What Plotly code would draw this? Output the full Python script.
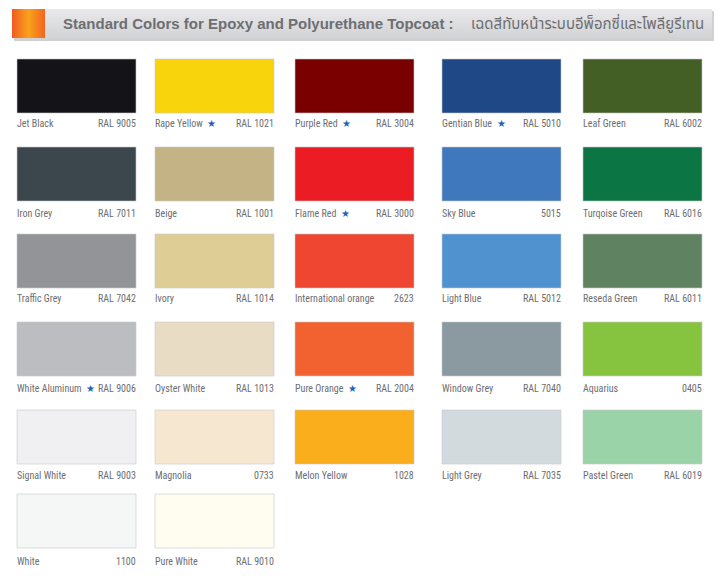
import plotly.graph_objects as go

# ---------------- data ----------------
names = [
    "Jet Black", "Rape Yellow", "Purple Red", "Gentian Blue", "Leaf Green",
    "Iron Grey", "Beige", "Flame Red", "Sky Blue", "Turqoise Green",
    "Traffic Grey", "Ivory", "International orange", "Light Blue", "Reseda Green",
    "White Aluminum", "Oyster White", "Pure Orange", "Window Grey", "Aquarius",
    "Signal White", "Magnolia", "Melon Yellow", "Light Grey", "Pastel Green",
    "White", "Pure White",
]
codes = [
    "RAL 9005", "RAL 1021", "RAL 3004", "RAL 5010", "RAL 6002",
    "RAL 7011", "RAL 1001", "RAL 3000", "5015", "RAL 6016",
    "RAL 7042", "RAL 1014", "2623", "RAL 5012", "RAL 6011",
    "RAL 9006", "RAL 1013", "RAL 2004", "RAL 7040", "0405",
    "RAL 9003", "0733", "1028", "RAL 7035", "RAL 6019",
    "1100", "RAL 9010",
]
colors = [
    "#141418", "#f8d40c", "#7a0000", "#1f4887", "#435f26",
    "#3c464d", "#c4b485", "#ec1c24", "#3f78bc", "#0b7544",
    "#939497", "#dfcd96", "#ee4630", "#5092cf", "#5f8260",
    "#bcbdc0", "#e8dcc4", "#f26130", "#8a9aa0", "#86c440",
    "#f0f0f2", "#f6e8d0", "#fbae1c", "#d3dadd", "#9bd3a8",
    "#f5f6f6", "#fefdf0",
]
starred = [
    False, True, True, True, False,
    False, False, True, False, False,
    False, False, False, False, False,
    True, False, True, False, False,
    False, False, False, False, False,
    False, False,
]
title_en = "Standard Colors for Epoxy and Polyurethane Topcoat :"
title_th = "เฉดสีทับหน้าระบบอีพ็อกซี่และโพลียูรีเทน"

# ---------------- layout constants ----------------
W, H = 720, 579
N_COLS = 5
col_left = [17, 155, 295, 442, 583]
sw_w = 119
row_top = [59, 147, 234, 322, 410, 494]
sw_h = 54
label_y = [123, 213, 298, 388, 475, 561]
TEXT = "#6d6e71"
STAR = "#1e64b4"
FONT = "Roboto Condensed, Liberation Sans Narrow, Arial Narrow, sans-serif"

fig = go.Figure()

# header banner (shadow, grey bar, orange block)
bx0, bx1, by0, by1 = 12, 712, 9, 38
fig.add_shape(type="rect", x0=bx0 + 2, x1=bx1 + 2, y0=by0 + 2, y1=by1 + 3,
              fillcolor="rgba(0,0,0,0.18)", line_width=0, layer="below")
fig.add_trace(go.Scatter(
    x=[bx0, bx1, bx1, bx0, bx0], y=[by0, by0, by1, by1, by0],
    mode="lines", line_width=0, fill="toself",
    fillgradient=dict(type="vertical",
                      colorscale=[[0, "#d2d3d5"], [1, "#e9e9eb"]]),
    hoverinfo="skip", showlegend=False))
ox1 = 45
fig.add_trace(go.Scatter(
    x=[bx0, ox1, ox1, bx0, bx0], y=[by0, by0, by1, by1, by0],
    mode="lines", line_width=0, fill="toself",
    fillgradient=dict(type="horizontal",
                      colorscale=[[0, "#f15a22"], [0.5, "#f9a21b"], [1, "#f26522"]]),
    hoverinfo="skip", showlegend=False))
fig.add_annotation(x=61, y=(by0 + by1) / 2, xanchor="left", yanchor="middle",
                   showarrow=False,
                   text=f"<b>{title_en}</b>",
                   font=dict(family="Liberation Sans, Arial, sans-serif", size=15, color=TEXT))
fig.add_annotation(x=706, y=(by0 + by1) / 2 + 1, xanchor="right", yanchor="middle",
                   showarrow=False, text=title_th,
                   font=dict(family="Noto Sans Thai, Noto Sans, sans-serif", size=15, color=TEXT))

# swatches and labels
for i, (nm, cd, col, st) in enumerate(zip(names, codes, colors, starred)):
    r, c = divmod(i, N_COLS)
    x0 = col_left[c]
    x1 = x0 + sw_w
    y0 = row_top[r]
    y1 = y0 + sw_h
    fig.add_shape(type="rect", x0=x0, x1=x1, y0=y0, y1=y1,
                  fillcolor=col, line=dict(color="rgba(200,200,200,0.6)", width=1))
    label = nm
    if st:
        label += f"&nbsp;&nbsp;<span style='color:{STAR};font-size:10px'>★</span>"
    fig.add_annotation(x=x0, y=label_y[r], xanchor="left", yanchor="middle",
                       xshift=-2, showarrow=False, text=label,
                       font=dict(family=FONT, size=10, color=TEXT))
    fig.add_annotation(x=x1, y=label_y[r], xanchor="right", yanchor="middle",
                       xshift=2, showarrow=False, text=cd,
                       font=dict(family=FONT, size=10, color=TEXT))

fig.update_layout(
    width=W, height=H,
    margin=dict(l=0, r=0, t=0, b=0),
    paper_bgcolor="white", plot_bgcolor="white",
    xaxis=dict(range=[0, W], visible=False, fixedrange=True),
    yaxis=dict(range=[H, 0], visible=False, fixedrange=True),
    showlegend=False,
)
fig.write_html("out.html", config={"displayModeBar": False},
               post_script="document.body.style.margin='0px';")
